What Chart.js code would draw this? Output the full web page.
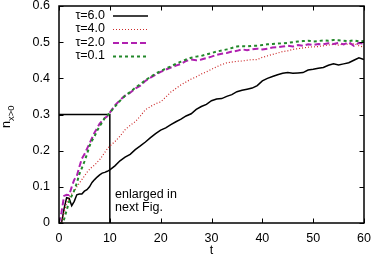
<!DOCTYPE html>
<html><head><meta charset="utf-8">
<script src="https://cdn.jsdelivr.net/npm/chart.js@4"></script>
<style>html,body{margin:0;padding:0;background:#fff}#wrap{width:374px;height:262px;position:relative}</style>
</head><body><div id="wrap"><canvas id="c" width="374" height="262"></canvas></div>
<script>
const tValues = [0,0.5,1,1.5,2,2.5,3,3.5,4,4.5,5,5.5,6,6.5,7,7.5,8,8.5,9,9.5,10,
  11,12,13,14,15,16,17,18,19,20,
  21,22,23,24,25,26,27,28,29,30,
  31,32,33,34,35,36,37,38,39,40,
  41,42,43,44,45,46,47,48,49,50,
  51,52,53,54,55,56,57,58,59,60];

const tau60 = [0,0,0.04,0.07,0.068,0.048,0.06,0.078,0.08,0.08,0.088,0.092,0.1,0.112,0.12,0.127,0.133,0.138,0.14,0.143,0.147,
  0.158,0.172,0.182,0.19,0.203,0.213,0.224,0.236,0.247,0.257,
  0.263,0.272,0.28,0.287,0.296,0.302,0.314,0.322,0.328,0.338,
  0.343,0.344,0.35,0.355,0.363,0.367,0.37,0.373,0.38,0.393,
  0.4,0.405,0.41,0.414,0.416,0.414,0.415,0.416,0.423,0.425,
  0.428,0.43,0.436,0.44,0.437,0.44,0.443,0.45,0.457,0.452];

const tau40 = [0,0,0.03,0.055,0.07,0.08,0.088,0.1,0.11,0.12,0.13,0.14,0.148,0.155,0.16,0.168,0.175,0.185,0.195,0.205,0.213,
  0.225,0.24,0.258,0.27,0.28,0.296,0.313,0.322,0.33,0.335,
  0.348,0.362,0.372,0.382,0.39,0.398,0.404,0.412,0.418,0.425,
  0.432,0.438,0.443,0.445,0.447,0.448,0.45,0.452,0.452,0.458,
  0.462,0.466,0.47,0.474,0.476,0.48,0.482,0.484,0.486,0.487,
  0.488,0.49,0.492,0.494,0.492,0.495,0.494,0.496,0.49,0.486];

const tau20 = [0,0.03,0.075,0.078,0.077,0.1,0.12,0.13,0.155,0.178,0.19,0.205,0.22,0.235,0.25,0.262,0.275,0.282,0.29,0.295,0.305,
  0.325,0.34,0.352,0.36,0.372,0.38,0.393,0.402,0.41,0.418,
  0.424,0.43,0.435,0.44,0.448,0.452,0.45,0.452,0.456,0.46,
  0.465,0.468,0.47,0.474,0.476,0.48,0.478,0.48,0.482,0.48,
  0.482,0.485,0.486,0.488,0.49,0.488,0.492,0.49,0.494,0.492,
  0.495,0.494,0.497,0.495,0.498,0.494,0.5,0.49,0.498,0.496];

const tau01 = [0,0,0.01,0.035,0.06,0.075,0.09,0.11,0.135,0.152,0.17,0.19,0.213,0.228,0.24,0.255,0.268,0.278,0.29,0.297,0.305,
  0.322,0.338,0.352,0.362,0.374,0.384,0.395,0.404,0.413,0.42,
  0.427,0.433,0.44,0.446,0.452,0.457,0.46,0.462,0.466,0.47,
  0.474,0.477,0.48,0.484,0.488,0.489,0.488,0.49,0.49,0.492,
  0.494,0.495,0.496,0.497,0.498,0.5,0.502,0.503,0.504,0.502,
  0.503,0.505,0.504,0.506,0.505,0.504,0.503,0.505,0.502,0.503];

const seriesLabels = ['τ=6.0','τ=4.0','τ=2.0','τ=0.1'];
const boxT = [0, 10, 10];
const boxN = [0.3, 0.3, 0];
const xTicks = [0,10,20,30,40,50,60];
const yTicks = [0,0.1,0.2,0.3,0.4,0.5,0.6];
const noteLines = ['enlarged in', 'next Fig.'];
const xTitle = 't';

const FONT = "'Liberation Sans', Arial, sans-serif";
const pts = arr => tValues.map((t,i)=>({x:t,y:arr[i]}));

const styles = [
  {color:'#000000', width:1.5, dash:[]},
  {color:'#cc2a2a', width:1.2, dash:[1,2]},
  {color:'#b020b0', width:2, dash:[6,3]},
  {color:'#22882a', width:2, dash:[3,3]}
];
const seriesData = [tau60, tau40, tau20, tau01];

const datasets = seriesData.map((arr,i)=>({
  label: seriesLabels[i],
  data: pts(arr),
  borderColor: styles[i].color,
  borderWidth: styles[i].width,
  borderDash: styles[i].dash,
  pointRadius: 0,
  tension: 0,
  fill: false,
  order: 4 - i
}));
datasets.push({
  label: 'box',
  data: boxT.map((t,i)=>({x:t,y:boxN[i]})),
  borderColor: '#000',
  borderWidth: 1.5,
  pointRadius: 0,
  tension: 0,
  fill: false,
  order: 10
});

const decor = {
  id: 'decor',
  afterDraw(chart) {
    const ctx = chart.ctx;
    const a = chart.chartArea;
    const xs = chart.scales.x, ys = chart.scales.y;
    ctx.save();
    ctx.strokeStyle = '#000';
    ctx.lineWidth = 1.5;
    ctx.setLineDash([]);
    ctx.strokeRect(a.left, a.top, a.right - a.left, a.bottom - a.top);
    ctx.lineWidth = 1;
    const L = 4.5;
    ctx.beginPath();
    xTicks.forEach(v => {
      const px = Math.round(xs.getPixelForValue(v)) + 0.5;
      ctx.moveTo(px, a.bottom); ctx.lineTo(px, a.bottom - L);
      ctx.moveTo(px, a.top); ctx.lineTo(px, a.top + L);
    });
    yTicks.forEach(v => {
      const py = Math.round(ys.getPixelForValue(v)) + 0.5;
      ctx.moveTo(a.left, py); ctx.lineTo(a.left + L, py);
      ctx.moveTo(a.right, py); ctx.lineTo(a.right - L, py);
    });
    ctx.stroke();

    // legend
    ctx.font = '12.5px ' + FONT;
    ctx.fillStyle = '#000';
    ctx.textBaseline = 'middle';
    seriesLabels.forEach((lab, i) => {
      const y = 15.5 + i * 13.5;
      ctx.textAlign = 'right';
      ctx.fillText(lab, 105, y);
      ctx.strokeStyle = styles[i].color;
      ctx.lineWidth = styles[i].width;
      ctx.setLineDash(styles[i].dash);
      ctx.beginPath();
      ctx.moveTo(113, y + 0.5); ctx.lineTo(148, y + 0.5);
      ctx.stroke();
    });
    ctx.setLineDash([]);

    // note
    ctx.fillStyle = '#000';
    ctx.textAlign = 'left';
    ctx.font = '12.5px ' + FONT;
    noteLines.forEach((s, i) => ctx.fillText(s, 115, 195 + i * 12.5));

    // x title
    ctx.textAlign = 'center';
    ctx.fillText(xTitle, (a.left + a.right) / 2, 251);

    // y title rotated with subscript
    ctx.translate(10, 128);
    ctx.rotate(-Math.PI / 2);
    ctx.textAlign = 'left';
    ctx.textBaseline = 'alphabetic';
    ctx.font = '12.5px ' + FONT;
    ctx.fillText('n', 0, 0);
    const w = ctx.measureText('n').width;
    ctx.font = '9.5px ' + FONT;
    ctx.fillText('x>0', w, 3.5);
    ctx.restore();
  }
};

new Chart(document.getElementById('c'), {
  type: 'line',
  data: { datasets },
  options: {
    responsive: false,
    animation: false,
    devicePixelRatio: 1,
    layout: { padding: { left: 0, right: 10, top: 6, bottom: 0 } },
    plugins: { legend: { display: false }, tooltip: { enabled: false } },
    scales: {
      x: {
        type: 'linear', min: 0, max: 60,
        grid: { display: false, drawTicks: false },
        border: { display: false },
        afterBuildTicks: s => { s.ticks = xTicks.map(v => ({ value: v })); },
        ticks: { color: '#000', font: { family: FONT, size: 12.5 }, padding: 8, maxRotation: 0,
                 callback: v => String(v) },
        afterFit: s => { s.height = 39; s.paddingLeft = 0; s.paddingRight = 0; }
      },
      y: {
        type: 'linear', min: 0, max: 0.6,
        grid: { display: false, drawTicks: false },
        border: { display: false },
        afterBuildTicks: s => { s.ticks = yTicks.map(v => ({ value: v })); },
        ticks: { color: '#000', font: { family: FONT, size: 12.5 }, padding: 9,
                 callback: v => (Math.round(v * 10) / 10).toString() },
        afterFit: s => { s.width = 59; s.paddingTop = 0; s.paddingBottom = 0; }
      }
    }
  },
  plugins: [decor]
});
</script>
</body></html>
